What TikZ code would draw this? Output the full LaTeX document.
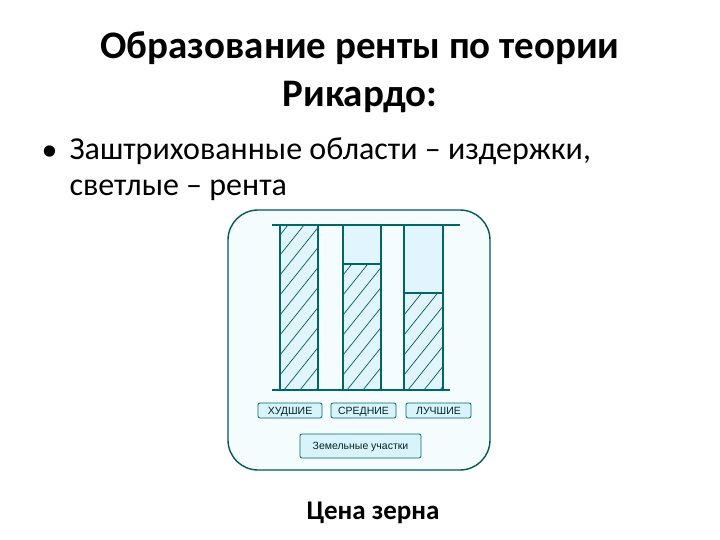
\documentclass[tikz,border=0pt]{standalone}
\usepackage{fontspec}
\setmainfont{Carlito}
\newfontfamily\lab{Liberation Sans}
\begin{document}
\begin{tikzpicture}[x=1pt,y=-1pt,
  tl/.style={draw=teal!80!black,line width=1.1pt},
  lbox/.style={draw=teal!80!black,fill=cyan!15,rounded corners=2pt,line width=0.8pt,font=\lab\fontsize{10.5}{12}\selectfont,text=teal!30!black,inner sep=0pt,text height=7.5pt,text depth=0.5pt}]
\useasboundingbox (0,0) rectangle (720,540);
\node[font=\bfseries\fontsize{39}{48}\selectfont,align=center] (title) at (360,72) {Образование ренты по теории\\Рикардо:};
\node[font=\fontsize{32}{36}\selectfont,anchor=west] (dot) at (38,153) {•};
\node[font=\fontsize{32}{36}\selectfont,align=left,anchor=north west] (bul) at (66,134) {Заштрихованные области – издержки,\\светлые – рента};
\node[draw=teal!70!black,fill=cyan!4,rounded corners=30pt,line width=1.4pt,minimum width=262pt,minimum height=260pt] (frame) at (359,340) {};
% bars
\foreach \xa/\xb/\yh in {280/318/225,343/381/264,404/443/293}{
  \fill[cyan!12] (\xa,225) rectangle (\xb,390);
  \begin{scope}
    \clip (\xa,\yh) rectangle (\xb,390);
    \foreach \k in {0,16,...,420}{\draw[teal!70!black,line width=0.7pt] (\xa-220+\k,390) -- (\xa-60+\k,390-200);}
  \end{scope}
  \draw[tl] (\xa,225) -- (\xa,390) (\xb,225) -- (\xb,390) (\xa,\yh) -- (\xb,\yh);
}
\draw[tl] (272,225) -- (460,225);
\draw[tl] (272,390) -- (450,390);
\node[lbox,minimum width=64pt,minimum height=15pt] (b1) at (290,410.5) {ХУДШИЕ};
\node[lbox,minimum width=65pt,minimum height=15pt] (b2) at (363.5,410.5) {СРЕДНИЕ};
\node[lbox,minimum width=65pt,minimum height=15pt] (b3) at (438.5,410.5) {ЛУЧШИЕ};
\node[lbox,minimum width=121pt,minimum height=24pt] (b4) at (360.5,446) {Земельные участки};
\node[font=\bfseries\fontsize{27}{30}\selectfont] (price) at (373,513) {Цена зерна};
\end{tikzpicture}
\end{document}
